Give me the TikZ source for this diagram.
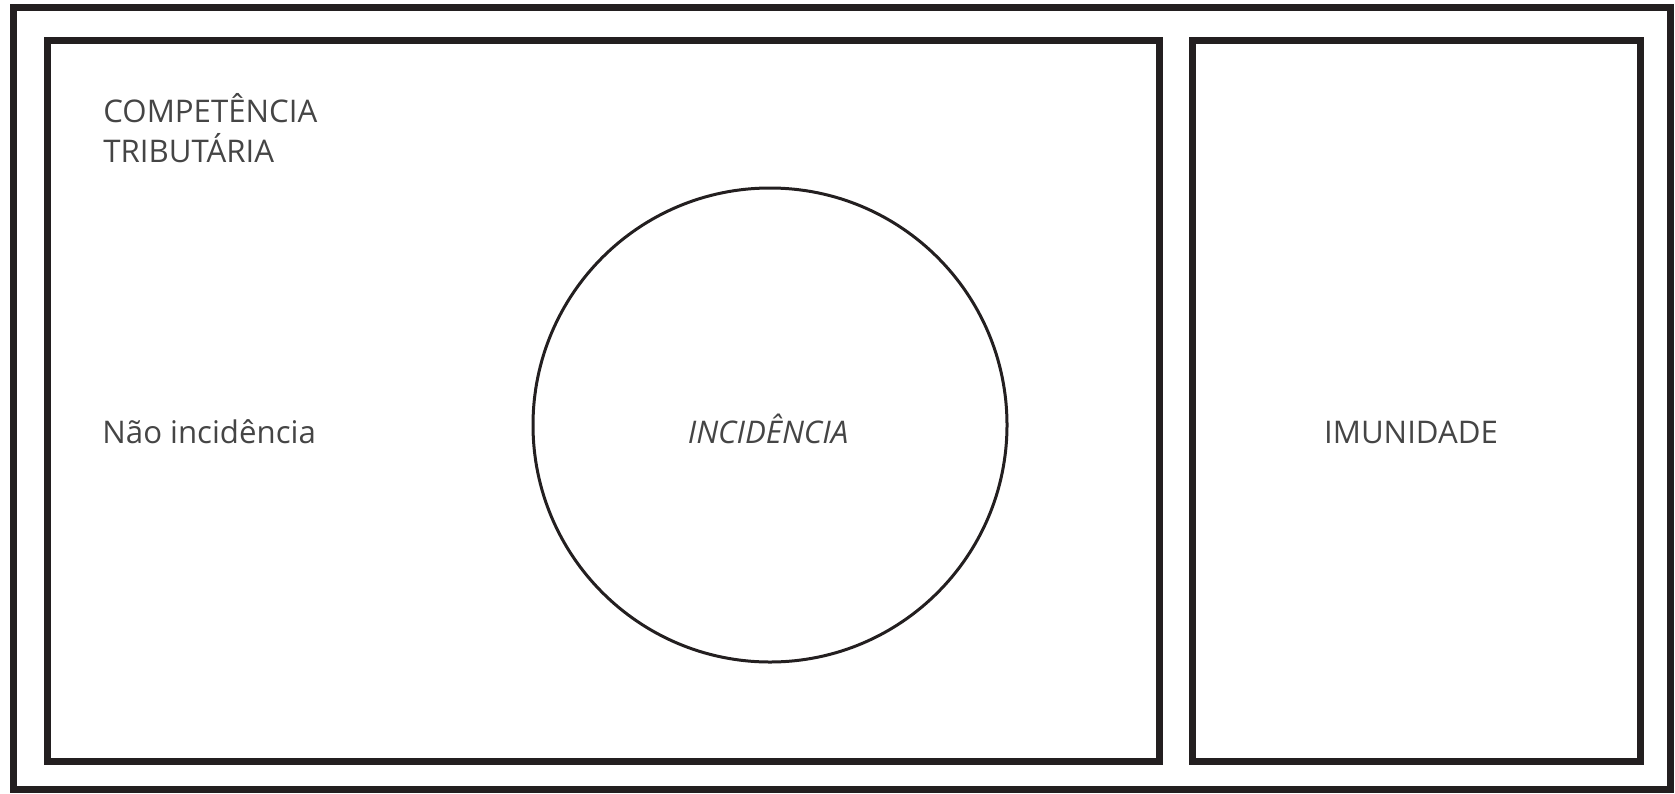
\documentclass[tikz,border=0pt]{standalone}
\usepackage{fontspec}
\setmainfont{Open Sans}
\definecolor{ink}{HTML}{231F20}
\definecolor{txt}{HTML}{454545}
\tikzset{
  frame/.style={draw=ink, line width=3.5pt},
  ring/.style={draw=ink, line width=1.5pt, circle, inner sep=0pt, minimum size=237pt},
  lbl/.style={text=txt, inner sep=0pt, font=\fontsize{15.6}{20}\selectfont}
}
\begin{document}
\begin{tikzpicture}[x=0.5pt,y=-0.5pt]
\useasboundingbox (0,0) rectangle (1675,793);
\draw[frame] (13.5,7.5) rectangle (1670,789);
\draw[frame] (47,40) rectangle (1159,761);
\draw[frame] (1192,40) rectangle (1640,761);
\node[ring] (inc) at (770,425) {};
\node[lbl, anchor=base west, align=left] (comp) at (103,162) {COMPETÊNCIA\\TRIBUTÁRIA};
\node[lbl, anchor=base west] (nao) at (102,443) {Não incidência};
\node[lbl, anchor=base, font=\fontsize{15.6}{20}\selectfont\itshape] (inct) at (768,443) {INCIDÊNCIA};
\node[lbl, anchor=base] (imu) at (1411,443) {IMUNIDADE};
\end{tikzpicture}
\end{document}
